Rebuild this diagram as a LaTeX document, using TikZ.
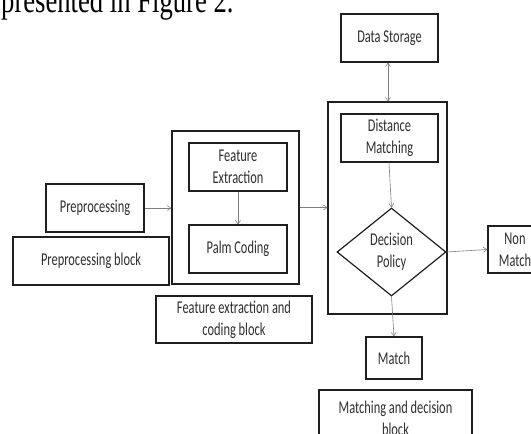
\documentclass[tikz,border=0pt]{standalone}
\usepackage{fontspec}
\usepackage{xcolor}
\usepackage{tikz}
\usetikzlibrary{arrows.meta,shapes.geometric}
\newfontfamily\boxfont{Carlito}[FakeStretch=0.69]
\newfontfamily\pagefont{Liberation Serif}[FakeStretch=0.74]
\definecolor{BoxInk}{gray}{0.12}
\definecolor{LabelInk}{gray}{0.18}
\definecolor{ArrowGray}{gray}{0.5}
\tikzset{
  diagram/.style={x=1pt,y=-1pt,text=LabelInk,>={Straight Barb[length=3.5pt,width=5pt]}},
  blockbox/.style={draw=BoxInk,line width=1.2pt,align=center,inner sep=0pt,
    font=\boxfont\fontsize{18}{22}\selectfont},
  decision/.style={blockbox,diamond,aspect=1.24},
  flow/.style={->,draw=ArrowGray,line width=0.6pt},
}

\begin{document}
\begin{tikzpicture}[diagram]
  \useasboundingbox (0,0) rectangle (531,434);
  \clip (0,0) rectangle (531,434);

  \node[anchor=base west,inner sep=0pt,text=black,font=\pagefont\fontsize{36}{40}\selectfont]
    (caption) at (1,12.5) {presented in Figure 2.};

  % preprocessing
  \node[blockbox,minimum width=98pt,minimum height=48pt] (prep) at (95,208) {Preprocessing};
  \node[blockbox,minimum width=156pt,minimum height=48pt] (prepblock) at (91,261) {Preprocessing block};

  % feature extraction and coding
  \node[blockbox,minimum width=127pt,minimum height=153pt] (featouter) at (235.5,207.5) {};
  \node[blockbox,minimum width=98pt,minimum height=48pt] (featext) at (238,167) {Feature\\Extraction};
  \node[blockbox,minimum width=98pt,minimum height=48pt] (palm) at (238,249) {Palm Coding};
  \node[blockbox,minimum width=156pt,minimum height=47pt] (featblock) at (234,319.5)
    {Feature extraction and\\coding block};

  % matching and decision
  \node[blockbox,minimum width=97pt,minimum height=48pt] (storage) at (389.5,38) {Data Storage};
  \node[blockbox,minimum width=119pt,minimum height=212pt] (matchouter) at (387.5,208) {};
  \node[blockbox,minimum width=97pt,minimum height=48pt] (dist) at (389.5,138) {Distance\\Matching};
  \node[decision,minimum width=109pt,minimum height=88pt] (policy) at (391.5,252) {Decision\\Policy};
  \node[blockbox,minimum width=54pt,minimum height=47pt] (nonmatch) at (515,249.5) {Non\\Match};
  \node[blockbox,minimum width=56pt,minimum height=42pt] (match) at (394,358) {Match};
  \node[blockbox,minimum width=153pt,minimum height=56pt] (matchblock) at (395.5,418)
    {Matching and decision\\block};

  \draw[flow] (prep.east) -- (prep.east -| featouter.west);
  \draw[flow] (featext) -- (palm);
  \draw[flow] (featouter.east) -- (featouter.east -| matchouter.west);
  \draw[flow,<->] (storage.south -| 388,0) -- (matchouter.north -| 388,0);
  \draw[flow] (dist.south -| 389,0) -- (policy.north);
  \draw[flow] (policy.east) -- (nonmatch.west);
  \draw[flow] (policy.south) -- (match.north);
\end{tikzpicture}
\end{document}
